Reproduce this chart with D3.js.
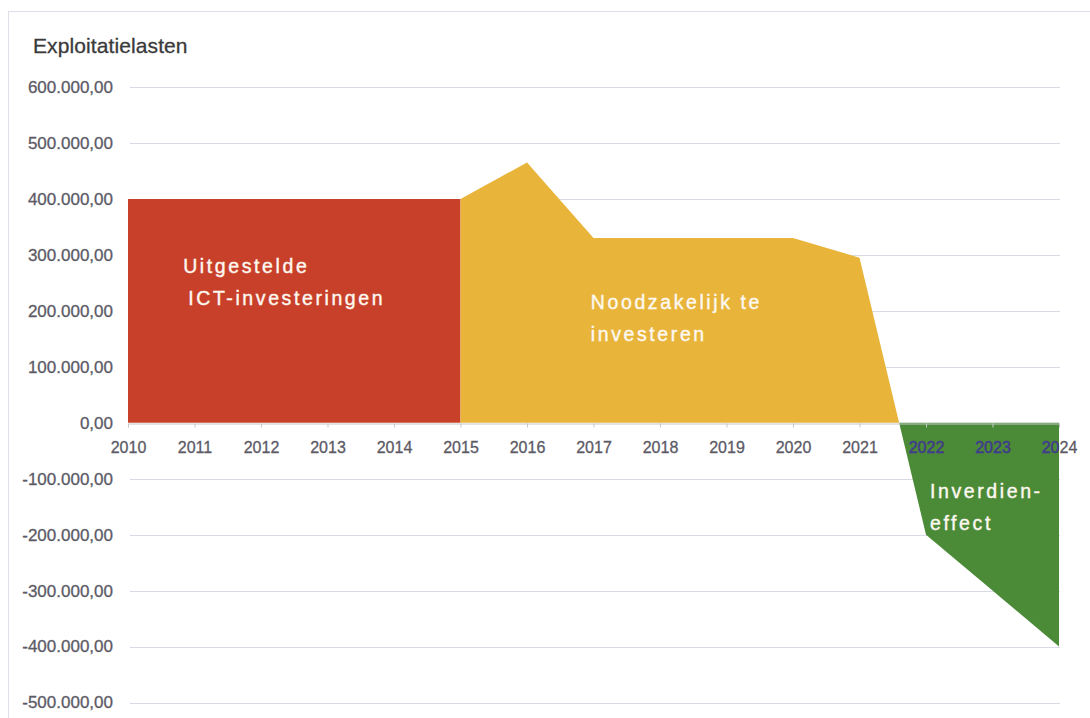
<!DOCTYPE html>
<html>
<head>
<meta charset="utf-8">
<script src="https://cdn.jsdelivr.net/npm/d3@7"></script>
<style>
  body { margin: 0; background: #fff; }
  text { font-family: "Liberation Sans", Arial, sans-serif; }
</style>
</head>
<body>
<svg id="chart"></svg>
<script>
// data
const years = [2010, 2011, 2012, 2013, 2014, 2015, 2016, 2017, 2018, 2019, 2020, 2021, 2022, 2023, 2024];
const lasten = [400000, 400000, 400000, 400000, 400000, 400000, 465000, 330000, 330000, 330000, 330000, 295000, -200000, -300000, -400000];
const yTicks = [600000, 500000, 400000, 300000, 200000, 100000, 0, -100000, -200000, -300000, -400000, -500000];
const splitYear = 2015; // end of the "uitgestelde" period
const title = 'Exploitatielasten';
const labels = [
  { lines: ['Uitgestelde', 'ICT-investeringen'], year: 2010.83, value: 268000 },
  { lines: ['Noodzakelijk te', 'investeren'], year: 2016.96, value: 203000 },
  { lines: ['Inverdien-', 'effect'], year: 2022.06, value: -134000 }
];
const colors = { red: '#c9402a', yellow: '#e8b43a', green: '#4b8a36' };

const width = 1090, height = 718;
const margin = { top: 87, right: 31, bottom: 15, left: 128 };

const svg = d3.select('#chart').attr('width', width).attr('height', height);

const xScale = d3.scaleLinear()
  .domain([2010, 2024])
  .range([margin.left, width - margin.right]);

const yScale = d3.scaleLinear()
  .domain([-500000, 600000])
  .range([height - margin.bottom - 0.5, margin.top]);

const nl = d3.formatLocale({ decimal: ',', thousands: '.', grouping: [3], currency: ['€', ''], minus: '-' });
const fmt = nl.format(',.2f');

// outer chart frame
svg.append('rect')
  .attr('x', 8.5).attr('y', 11.5)
  .attr('width', width - 4).attr('height', height)
  .attr('fill', 'none')
  .attr('stroke', '#dde0e8');

svg.append('text')
  .attr('x', 33).attr('y', 53)
  .attr('font-size', 21)
  .attr('letter-spacing', 0.1)
  .attr('fill', '#3a3a3a')
  .attr('stroke', '#3a3a3a').attr('stroke-width', 0.3)
  .text(title);

// gridlines
svg.append('g')
  .selectAll('line')
  .data(yTicks.filter(d => d !== 0))
  .join('line')
  .attr('x1', xScale(2010) + 2).attr('x2', xScale(2024) + 1)
  .attr('y1', d => Math.round(yScale(d)) + 0.5).attr('y2', d => Math.round(yScale(d)) + 0.5)
  .attr('stroke', '#d8dbe6');

// y labels
svg.append('g')
  .selectAll('text')
  .data(yTicks)
  .join('text')
  .attr('x', 113)
  .attr('y', d => yScale(d))
  .attr('dy', '0.35em')
  .attr('text-anchor', 'end')
  .attr('font-size', 17)
  .attr('fill', '#5c5a66')
  .attr('stroke', '#5c5a66').attr('stroke-width', 0.3)
  .text(d => fmt(d));

// split the series into the three coloured parts
const pts = years.map((y, i) => ({ x: y, v: lasten[i] }));
let cross = null;
for (let i = 1; i < pts.length; i++) {
  if (pts[i - 1].v > 0 && pts[i].v <= 0) {
    const a = pts[i - 1], b = pts[i];
    cross = { x: a.x + (b.x - a.x) * a.v / (a.v - b.v), v: 0 };
  }
}
const redPts = pts.filter(d => d.x <= splitYear);
const yellowPts = pts.filter(d => d.x >= splitYear && d.x < cross.x).concat([cross]);
const greenPts = [cross].concat(pts.filter(d => d.x > cross.x));

const area = d3.area()
  .x(d => xScale(d.x))
  .y0(yScale(0))
  .y1(d => yScale(d.v));

svg.append('path').datum(redPts).attr('fill', colors.red).attr('d', area);
svg.append('path').datum(yellowPts).attr('fill', colors.yellow).attr('d', area);
svg.append('path').datum(greenPts).attr('fill', colors.green).attr('d', area);

svg.append('clipPath').attr('id', 'greenClip')
  .append('path').datum(greenPts).attr('d', area);

// x axis at zero
const xAxis = d3.axisBottom(xScale)
  .tickValues(years)
  .tickFormat(d3.format('d'))
  .tickSize(4)
  .tickPadding(14);

const xAxisG = svg.append('g')
  .attr('transform', `translate(0,${Math.round(yScale(0)) + 0.5})`)
  .call(xAxis);
xAxisG.select('.domain').attr('stroke', '#c8c8cc');
xAxisG.selectAll('.tick line').attr('stroke', '#c8c8cc');
xAxisG.selectAll('.tick text')
  .attr('font-size', 16)
  .attr('font-family', '"Liberation Sans", Arial, sans-serif')
  .attr('fill', '#5c5a66')
  .attr('stroke', '#5c5a66').attr('stroke-width', 0.3);

// the year labels that sit on the green area look dark blue
const xAxisBlue = svg.append('g')
  .attr('clip-path', 'url(#greenClip)')
  .append('g')
  .attr('transform', `translate(0,${Math.round(yScale(0)) + 0.5})`)
  .call(xAxis);
xAxisBlue.select('.domain').remove();
xAxisBlue.selectAll('.tick line').remove();
xAxisBlue.selectAll('.tick text')
  .attr('font-size', 16)
  .attr('font-family', '"Liberation Sans", Arial, sans-serif')
  .attr('fill', '#3d3f8a')
  .attr('stroke', '#3d3f8a').attr('stroke-width', 0.3);

// annotations
labels.forEach(l => {
  const t = svg.append('text')
    .attr('x', xScale(l.year))
    .attr('y', yScale(l.value))
    .attr('font-size', 19.5)
    .attr('letter-spacing', 2.6)
    .attr('fill', '#fdf8f0')
    .attr('stroke', '#fdf8f0').attr('stroke-width', 0.4);
  l.lines.forEach((s, i) => {
    t.append('tspan')
      .attr('x', xScale(l.year) + (i === 1 && l.year < 2011 ? 5 : 0))
      .attr('dy', i === 0 ? 0 : 32)
      .text(s);
  });
});
</script>
</body>
</html>
